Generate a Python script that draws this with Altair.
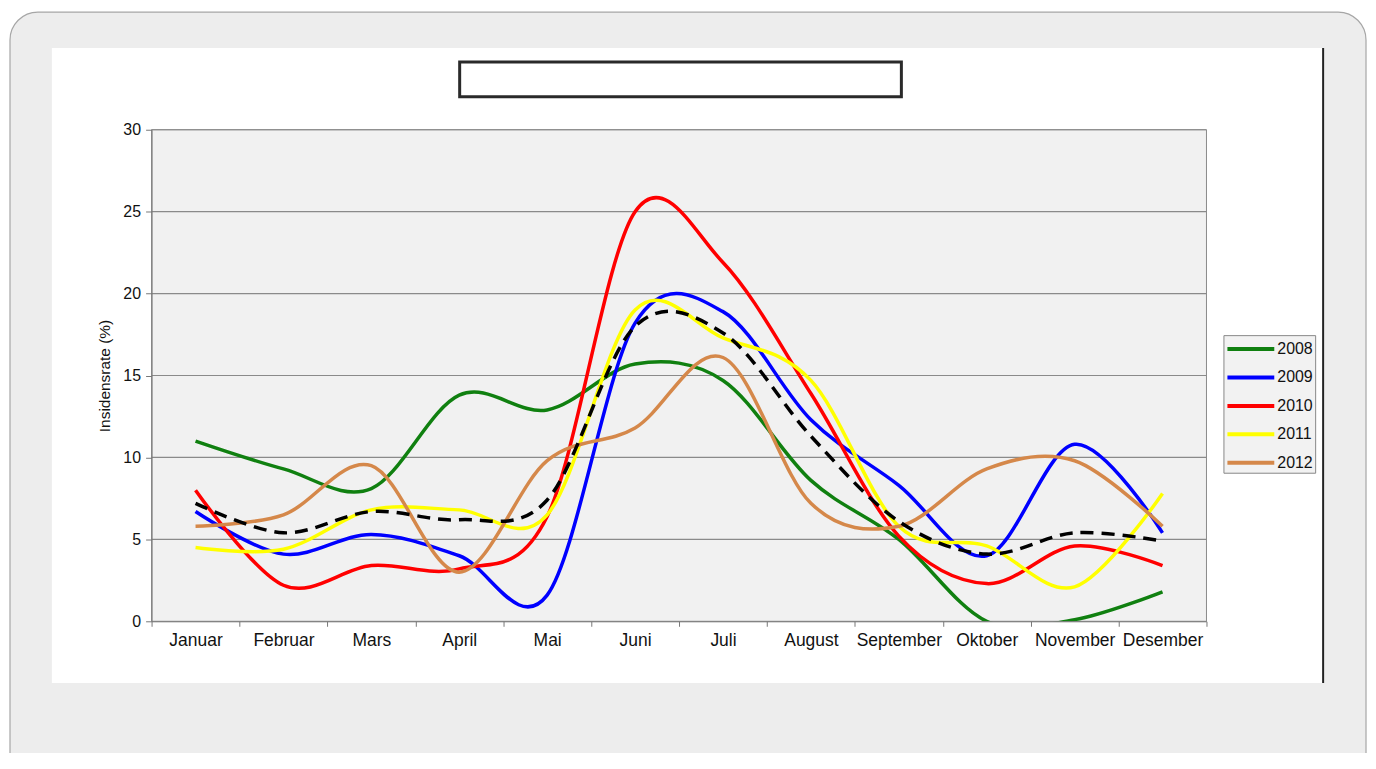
import altair as alt
import pandas as pd

months = ["Januar", "Februar", "Mars", "April", "Mai", "Juni", "Juli",
          "August", "September", "Oktober", "November", "Desember"]
years = ["2008", "2009", "2010", "2011", "2012"]
v2008 = [11.0, 9.3, 8.1, 13.8, 12.9, 15.7, 14.7, 8.6, 5.0, 0.0, 0.1, 1.8]
v2009 = [6.7, 4.1, 5.3, 4.0, 1.6, 18.2, 18.9, 12.3, 8.3, 4.0, 10.8, 5.4]
v2010 = [8.0, 2.2, 3.4, 3.2, 6.4, 25.0, 21.9, 13.9, 5.2, 2.3, 4.6, 3.4]
v2011 = [4.5, 4.4, 6.8, 6.8, 6.5, 19.0, 17.3, 14.7, 5.8, 4.6, 2.1, 7.8]
v2012 = [5.8, 6.5, 9.5, 3.0, 9.8, 11.8, 16.1, 7.2, 5.8, 9.3, 9.8, 5.8]
average = [7.2, 5.4, 6.7, 6.2, 7.4, 18.0, 17.6, 11.3, 6.1, 4.1, 5.4, 4.9]
colors = ["#108010", "#0000ff", "#ff0000", "#ffff00", "#d5884a"]
y_ticks = [0, 5, 10, 15, 20, 25, 30]
grid_vals = [5, 10, 15, 20, 25, 30]

rows = []
for yr, vals in zip(years, [v2008, v2009, v2010, v2011, v2012]):
    for m, v in zip(months, vals):
        rows.append({"Måned": m, "År": yr, "Verdi": v})
df = pd.DataFrame(rows)
avg_df = pd.DataFrame({"Måned": months, "Verdi": average})
grid_df = pd.DataFrame({"g": grid_vals})
one = pd.DataFrame({"d": [0]})

W, H = 1058, 493
FONT = "Liberation Sans"

xscale = alt.Scale(type="band", domain=months, paddingInner=0, paddingOuter=0)
yscale = alt.Scale(domain=[0, 30], nice=False)
xaxis = alt.Axis(title=None, tickBand="extent", labelAngle=0, labelFontSize=17.5,
                 labelColor="#111", tickColor="#777", domainColor="#777",
                 tickSize=5, labelPadding=5, grid=False, zindex=1)
yaxis = alt.Axis(title="Insidensrate (%)", values=y_ticks, labelFontSize=16,
                 labelColor="#111", tickColor="#777", domainColor="#777",
                 tickSize=6, labelPadding=5, grid=False, zindex=1,
                 titleFontSize=15.5, titleFontWeight="normal", titleColor="#111",
                 titlePadding=10)

slide = alt.Chart(one).mark_rect(fill="#ededed", stroke="#a6a6a6", strokeWidth=1.2,
                                 cornerRadius=28).encode(
    x=alt.value(-142), x2=alt.value(1218), y=alt.value(-118), y2=alt.value(700))
white = alt.Chart(one).mark_rect(fill="white").encode(
    x=alt.value(-100), x2=alt.value(1176), y=alt.value(-82), y2=alt.value(555))
vline = alt.Chart(one).mark_rule(color="#222", strokeWidth=2).encode(
    x=alt.value(1175), y=alt.value(-82), y2=alt.value(555))
titlebox = alt.Chart(one).mark_rect(fill="white", stroke="#2a2a2a", strokeWidth=3).encode(
    x=alt.value(309), x2=alt.value(752), y=alt.value(-68), y2=alt.value(-33))
plotbg = alt.Chart(one).mark_rect(fill="#f1f1f1", stroke="#8a8a8a", strokeWidth=1).encode(
    x=alt.value(0), x2=alt.value(W), y=alt.value(0), y2=alt.value(H))

grid = alt.Chart(grid_df).mark_rule(color="#8a8a8a", strokeWidth=1.2).encode(
    y=alt.Y("g:Q", scale=yscale, axis=yaxis))

lines = alt.Chart(df).mark_line(interpolate="cardinal", strokeWidth=3.5, clip=True).encode(
    x=alt.X("Måned:N", sort=months, scale=xscale, axis=xaxis),
    y=alt.Y("Verdi:Q", scale=yscale, axis=yaxis),
    color=alt.Color("År:N", scale=alt.Scale(domain=years, range=colors),
                    legend=alt.Legend(orient="none", legendX=1075, legendY=206, title=None,
                                      symbolType="M-1,0H3.7", symbolStrokeWidth=4,
                                      symbolSize=400, labelFontSize=16, labelOffset=28,
                                      labelColor="#111", rowPadding=8.5,
                                      fillColor="#f2f2f2", strokeColor="#888", padding=2)),
    detail="År:N",
)

avg_line = alt.Chart(avg_df).mark_line(interpolate="cardinal", strokeWidth=3.5,
                                       color="black", strokeDash=[13, 8], clip=True).encode(
    x=alt.X("Måned:N", sort=months, scale=xscale, axis=xaxis),
    y=alt.Y("Verdi:Q", scale=yscale, axis=yaxis),
)

chart = alt.layer(slide, white, vline, titlebox, plotbg, grid, lines, avg_line).properties(
    width=W, height=H,
    padding={"left": 144, "top": 121, "right": 162, "bottom": 131},
    autosize=alt.AutoSizeParams(type="none"),
    background="white",
).configure(font=FONT).configure_view(stroke=None)

chart.save("out.html", embed_options={"renderer": "svg", "actions": False})
